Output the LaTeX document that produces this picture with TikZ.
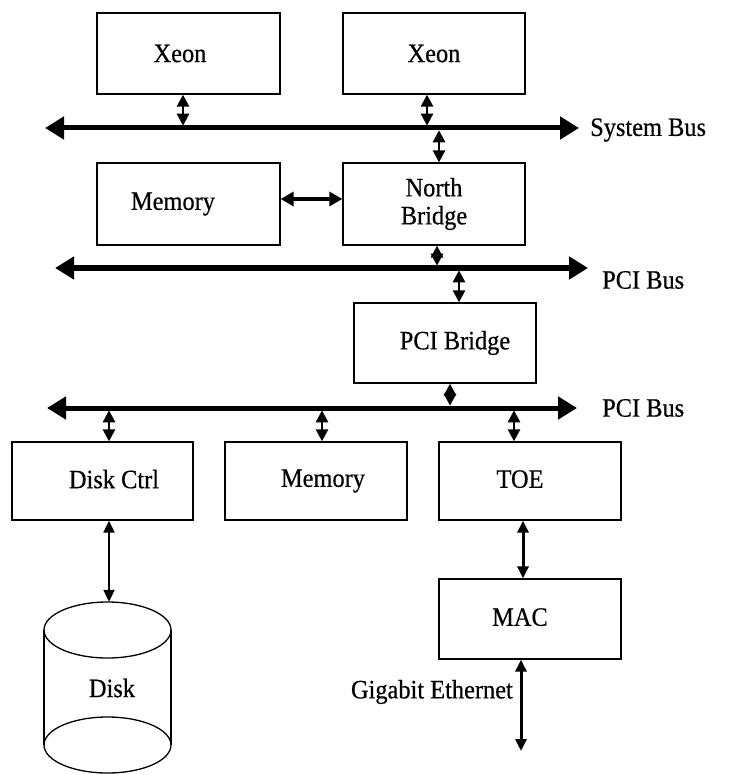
\documentclass[tikz,border=0pt]{standalone}
\usepackage{fontspec}
\setmainfont{Liberation Serif}[FakeStretch=0.92,FakeBold=0.5]
\usetikzlibrary{arrows.meta}
\begin{document}
\begin{tikzpicture}[x=1pt,y=-1pt,
  box/.style={draw,line width=1.3pt,minimum width=182pt,minimum height=80pt,inner sep=0pt,
    font=\fontsize{26.5}{28}\selectfont,align=center},
  txt/.style={font=\fontsize{26.5}{28}\selectfont,inner sep=0pt},
  bus/.style={line width=5pt,{Triangle[length=19pt,width=22pt]}-{Triangle[length=19pt,width=22pt]}},
  link/.style={line width=2.6pt,{Triangle[length=12pt,width=12pt]}-{Triangle[length=12pt,width=12pt]}},
  wire/.style={line width=2pt,{Triangle[length=12pt,width=11pt]}-{Triangle[length=12pt,width=11pt]}}]
\useasboundingbox (0,0) rectangle (731,775);

% boxes
\node[box,minimum width=183pt,minimum height=81pt] (xeonA) at (188.5,53.5) {\hspace*{-17pt}Xeon};
\node[box,minimum height=81pt] (xeonB) at (434,53.5) {Xeon};
\node[box,minimum width=183pt,minimum height=82pt] (memA) at (188.5,204) {\hspace*{-31pt}Memory};
\node[box,minimum height=82pt] (nb) at (434,204) {North\\Bridge};
\node[box] (bridge) at (445,343) {\hspace*{20pt}PCI Bridge};
\node[box,minimum width=181pt,minimum height=78pt] (dctrl) at (102.5,481) {\hspace*{23pt}\raisebox{4pt}{Disk Ctrl}};
\node[box,minimum height=78pt] (memB) at (316,481) {\hspace*{14pt}\raisebox{4pt}{Memory}};
\node[box,minimum height=78pt] (toe) at (530,481) {\hspace*{-20pt}\raisebox{4pt}{TOE}};
\node[box] (mac) at (530,619) {\hspace*{-20pt}\raisebox{4pt}{MAC}};

% disk
\node[txt,minimum width=127pt,minimum height=172pt] (disk) at (107.5,688) {\hspace*{9pt}\raisebox{-4pt}{Disk}};
\draw[line width=1.3pt] (107.5,630) ellipse [x radius=63.5pt, y radius=28pt];
\draw[line width=1.3pt] (107.5,745) ellipse [x radius=63.5pt, y radius=28pt];
\draw[line width=1.3pt] (44,630) -- (44,745);
\draw[line width=1.3pt] (171,630) -- (171,745);

% buses
\coordinate (sysL) at (45,128);
\coordinate (sysR) at (579,128);
\coordinate (pciAL) at (55,268);
\coordinate (pciAR) at (588,268);
\coordinate (pciBL) at (47,408);
\coordinate (pciBR) at (577,408);
\draw[bus] (sysL) -- (sysR);
\draw[bus] (pciAL) -- (pciAR);
\draw[bus] (pciBL) -- (pciBR);

\node[txt,anchor=west] (lsys) at (590,130) {System Bus};
\node[txt,anchor=west] (lpciA) at (602,280) {PCI Bus};
\node[txt,anchor=west] (lpciB) at (602,408) {PCI Bus};

% taps
\coordinate (sA) at (183,128);
\coordinate (sB) at (427,128);
\coordinate (sC) at (439,128);
\coordinate (pA) at (437,268);
\coordinate (pB) at (459,268);
\coordinate (qA) at (450,408);
\coordinate (qB) at (109,408);
\coordinate (qC) at (322,408);
\coordinate (qD) at (514,408);

\draw[link,shorten >=2.3pt] ([xshift=-5.5pt]xeonA.south) -- (sA);
\draw[link,shorten >=2.3pt] ([xshift=-7pt]xeonB.south) -- (sB);
\draw[link,shorten <=2.3pt] (sC) -- ([xshift=5pt]nb.north);
\draw[link,line width=4.5pt,{Triangle[length=13pt,width=14pt]}-{Triangle[length=13pt,width=14pt]}]
  ([yshift=5pt]memA.east) -- ([yshift=5pt]nb.west);
\draw[link,shorten >=2.3pt] ([xshift=3pt]nb.south) -- (pA);
\draw[link,shorten <=2.3pt] (pB) -- ([xshift=14pt]bridge.north);
\draw[link,shorten >=2.3pt] ([xshift=5pt]bridge.south) -- (qA);
\draw[link,shorten <=2.3pt] (qB) -- ([xshift=6.5pt]dctrl.north);
\draw[link,shorten <=2.3pt] (qC) -- ([xshift=6pt]memB.north);
\draw[link,shorten <=2.3pt] (qD) -- ([xshift=-16pt]toe.north);

% lower connectors
\draw[wire] ([xshift=6.5pt]dctrl.south) -- ([xshift=1.5pt]disk.north);
\draw[wire,line width=3pt] ([xshift=-7pt]toe.south) -- ([xshift=-7pt]mac.north);
\coordinate (eth) at (521,751);
\draw[wire,line width=3pt] ([xshift=-9pt]mac.south) -- (eth);
\node[txt,anchor=east] (geth) at (513,692) {Gigabit Ethernet};
\end{tikzpicture}
\end{document}
